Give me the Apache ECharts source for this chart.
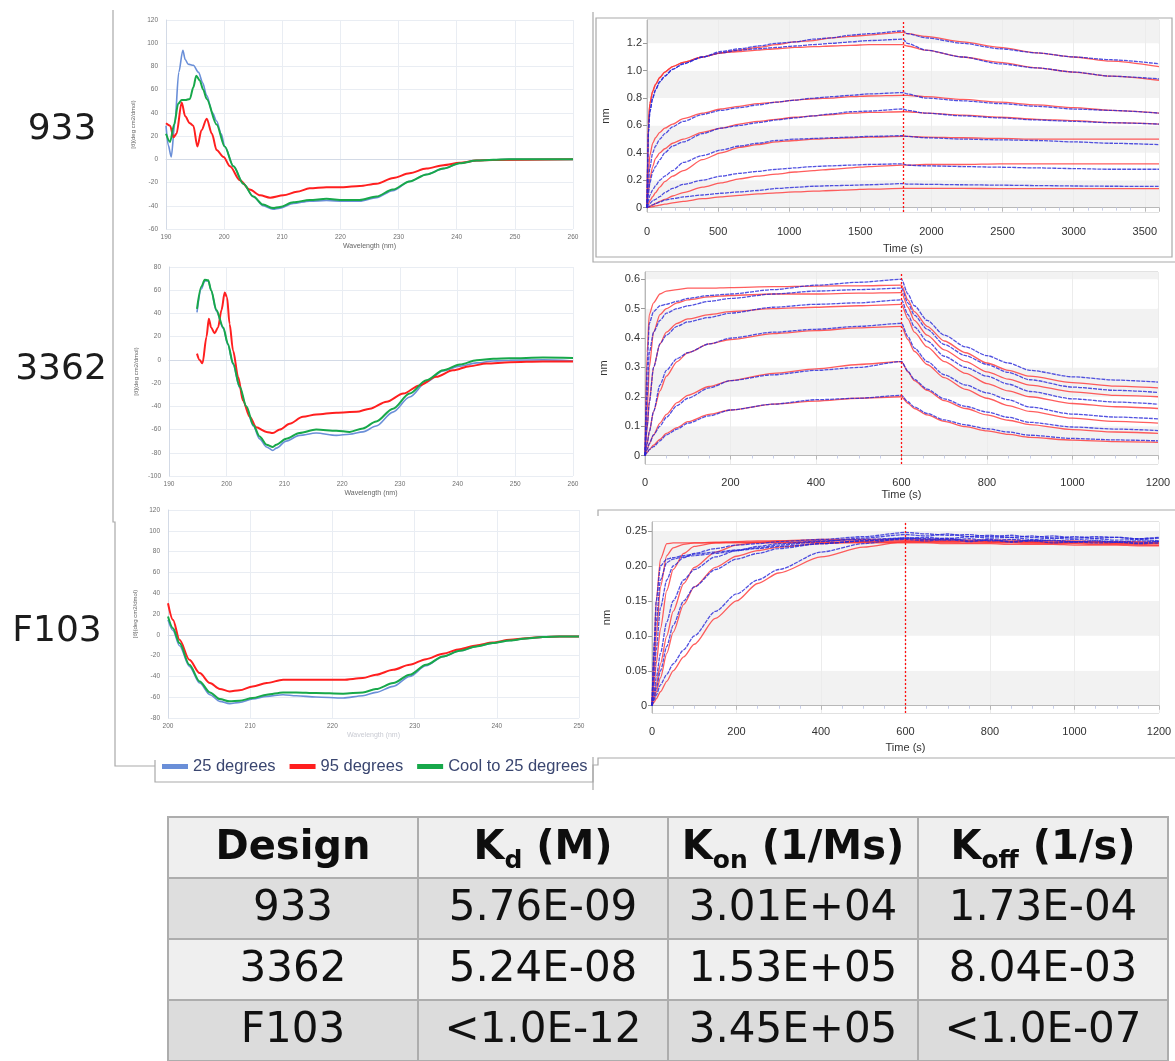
<!DOCTYPE html>
<html><head><meta charset="utf-8">
<script src="https://cdn.jsdelivr.net/npm/echarts@6/dist/echarts.min.js"></script>
<style>html,body{margin:0;padding:0;background:#fff}#c{width:1175px;height:1061px}</style>
</head><body><div id="c"></div>
<script>
// ================= DATA =================
const rowLabels = ['933', '3362', 'F103'];
const cdNames = ['25 degrees', '95 degrees', 'Cool to 25 degrees'];

// CD spectra, design 933 (wavelength nm / [theta])
const cd933BlueWl = [190,190.4,190.9,191.5,192.2,192.9,193.3,193.8,194.7,195.6,196.3,197,198,198.7,199.5,200.1,201.6,203.3,205,206.7,208.4,209.6,211.9,214.7,217.6,220.5,223.3,226.2,229,231.9,234.8,237.7,240.5,243.4,246.3,249,260];
const cd933Blue   = [29,12,2,30,75,94,86,82,81,75,66,55,40,33,22,11,-6,-21,-32,-40,-43,-42,-38,-36,-35.5,-36,-36,-33,-27,-19,-13,-8,-3.4,-1.1,-0.3,0,0];
const cd933RedWl  = [190,190.7,191.3,191.8,192.7,193.3,194.1,194.7,195.4,196.1,197,197.9,198.7,199.9,201,202.7,204.4,206.2,207.9,210.2,212.5,214.7,217.6,220.5,223.3,226.2,229.1,231.9,234.8,237.7,240.5,243.4,246.2,260];
const cd933Red    = [31,29,19,22,49,37,31,29,11,25,35,22,8,2,-6,-18,-26,-31,-33,-31,-28,-25,-24,-24,-23,-21,-16,-12,-8,-5,-3,-1,-0.5,0];
const cd933GreenWl= [190,190.7,191.4,192.1,192.7,193.3,194.1,194.7,195.2,195.8,196.4,197,198.7,200.1,201.6,203.3,205,206.7,208.4,209.6,211.9,214.7,217.6,220.5,223.3,226.2,229,231.9,234.8,237.7,240.5,243.4,246.3,249,260];
const cd933Green  = [22,15,30,48,51,51,52,62,72,68,60,52,30,11,-6,-21,-32,-39,-42,-41,-37,-35,-34,-35,-35,-32,-26,-19,-13,-8,-3.4,-1.1,-0.3,0,0];

// CD spectra, design 3362
const cd3362BlueWl = [194.85,195.6,196.2,196.8,197.3,198.2,199.4,200.2,201.1,202.25,203.4,204.6,205.7,206.9,208,208.6,210.3,212.6,215.5,219,221.3,223.6,225.9,228.8,231.7,234.6,237.5,240.4,243.3,246.2,249,254.8,260];
const cd3362Blue   = [41,61,68,68,60,42,27,13,-4,-24,-41,-57,-68,-75,-78,-76,-70,-65,-63,-65,-64,-62,-57,-45,-32,-19,-9.5,-5.4,-2.6,-1,-0.3,0,-0.9];
const cd3362RedWl  = [194.85,195.3,195.8,196.5,196.9,197.3,197.9,198.5,199.1,199.65,200.05,200.5,201.1,202,202.8,204,205.1,206.9,208,209.2,210.9,213.2,215.5,219,222.5,224.8,227.7,230.6,233.4,236.3,239.2,242.1,245,249,254.8,260];
const cd3362Red    = [5.4,0,-3,20,35.5,28,23,28,43,58,54,31,8,-15,-35,-49,-58,-62,-63,-60,-55,-49,-47,-45.5,-44.7,-42,-36,-29,-22,-14.6,-9,-5.4,-3.2,-2,-1.4,-1.4];
const cd3362GreenWl= [194.85,195.6,196.2,196.8,197.3,198.2,199.4,200.2,201.1,202.25,203.4,204.6,205.7,206.9,208,208.6,210.3,212.6,215.5,219,221.3,223.6,225.9,228.8,231.7,234.6,237.5,240.4,243.3,246.2,249,254.8,260];
const cd3362Green  = [44,63,69,68.5,60,43,28,14,-3,-23,-40,-56,-66,-73,-75,-73,-68,-63,-60,-61,-62,-59,-53,-42,-29,-17.5,-9,-4,-0.3,1,1.4,2,1.7];

// CD spectra, design F103
const cdF103Wl    = [200,200.6,201.4,202.6,203.85,205.1,206.3,207.5,208.7,210.3,212,214,215.6,218,221.3,223.7,225.3,227.4,229.4,231.4,233.45,235.5,237.5,239.5,241.6,243.6,245.6,247.65,250];
const cdF103Blue  = [14.4,4.2,-10.6,-30.4,-46.4,-57.6,-64,-66.2,-65,-61.8,-59.2,-57.6,-58.6,-59.8,-60.8,-58.6,-55.4,-49.6,-40,-29.8,-21,-15.4,-11.2,-8,-5.4,-3.5,-2.2,-1.6,-1.6];
const cdF103Red   = [30.4,14.4,-4.8,-24,-36.8,-46.4,-52,-54.4,-53.4,-49.6,-46.4,-43.2,-43.2,-43.2,-43.2,-41.6,-38.4,-33.6,-28.8,-23.4,-18.2,-13.8,-10.2,-7.4,-4.8,-3.2,-2.2,-1.6,-1.6];
const cdF103Green = [17.6,6.4,-8,-28.8,-44.8,-55.4,-61.8,-64,-63.4,-60.8,-57.6,-55.4,-55.4,-56,-56.6,-55.4,-52.2,-46.4,-38.4,-28.8,-20.8,-15.4,-11.2,-8,-5.4,-3.5,-2.2,-1.6,-1.6];

// BLI sensorgrams, design 933 (time s / nm); dissociation starts at 1800 s
const bli933Switch = 1800;
const bli933T = [0,10,20,40,60,90,125,180,255,390,520,650,780,910,1040,1170,1300,1430,1560,1800,1830,1960,2220,2480,2740,3000,3260,3600];
const bli933Data = [
  [0,0.55,0.70,0.80,0.86,0.92,0.96,1.01,1.05,1.10,1.14,1.16,1.18,1.20,1.21,1.23,1.24,1.26,1.27,1.29,1.27,1.24,1.20,1.16,1.13,1.10,1.08,1.05],
  [0,0.55,0.70,0.80,0.86,0.92,0.96,1.01,1.05,1.10,1.13,1.15,1.16,1.17,1.18,1.19,1.20,1.21,1.22,1.23,1.20,1.15,1.10,1.05,1.02,0.99,0.96,0.94],
  [0,0.18,0.29,0.40,0.45,0.50,0.54,0.59,0.63,0.68,0.71,0.73,0.75,0.77,0.785,0.80,0.81,0.82,0.83,0.84,0.83,0.80,0.78,0.76,0.74,0.72,0.71,0.69],
  [0,0.10,0.18,0.26,0.30,0.35,0.40,0.45,0.48,0.54,0.58,0.60,0.62,0.64,0.655,0.67,0.685,0.70,0.705,0.72,0.71,0.69,0.67,0.655,0.64,0.63,0.62,0.61],
  [0,0.05,0.09,0.13,0.16,0.20,0.23,0.27,0.33,0.38,0.42,0.45,0.47,0.49,0.50,0.505,0.51,0.515,0.52,0.525,0.52,0.51,0.50,0.495,0.49,0.48,0.47,0.46],
  [0,0.02,0.03,0.05,0.06,0.08,0.11,0.14,0.17,0.20,0.23,0.25,0.265,0.28,0.29,0.30,0.305,0.31,0.315,0.32,0.31,0.305,0.30,0.295,0.29,0.285,0.28,0.28],
  [0,0.005,0.01,0.02,0.03,0.04,0.055,0.065,0.078,0.092,0.105,0.115,0.125,0.14,0.148,0.156,0.16,0.163,0.167,0.175,0.172,0.17,0.167,0.164,0.161,0.158,0.156,0.155]
];
const bli933Fit = [
  [0,0.62,0.76,0.85,0.90,0.95,0.99,1.03,1.06,1.10,1.13,1.15,1.17,1.19,1.21,1.22,1.24,1.25,1.26,1.28,1.27,1.25,1.21,1.17,1.13,1.10,1.07,1.03],
  [0,0.62,0.76,0.85,0.90,0.95,0.99,1.03,1.06,1.10,1.13,1.14,1.15,1.16,1.17,1.175,1.18,1.185,1.19,1.19,1.18,1.15,1.10,1.06,1.02,0.99,0.96,0.93],
  [0,0.25,0.38,0.47,0.51,0.55,0.58,0.61,0.65,0.69,0.72,0.74,0.76,0.77,0.785,0.795,0.80,0.81,0.815,0.82,0.82,0.81,0.79,0.77,0.75,0.73,0.71,0.69],
  [0,0.12,0.21,0.30,0.36,0.40,0.43,0.47,0.50,0.55,0.58,0.61,0.63,0.645,0.66,0.67,0.68,0.69,0.695,0.70,0.70,0.69,0.675,0.66,0.645,0.635,0.62,0.61],
  [0,0.03,0.05,0.08,0.11,0.15,0.19,0.23,0.27,0.35,0.40,0.44,0.46,0.48,0.49,0.50,0.505,0.51,0.515,0.52,0.52,0.515,0.51,0.505,0.50,0.50,0.50,0.50],
  [0,0.005,0.01,0.02,0.03,0.045,0.06,0.085,0.11,0.15,0.18,0.21,0.23,0.245,0.26,0.27,0.28,0.29,0.30,0.31,0.31,0.315,0.315,0.32,0.32,0.32,0.32,0.32],
  [0,0.002,0.004,0.008,0.012,0.018,0.025,0.035,0.045,0.065,0.078,0.09,0.10,0.108,0.115,0.12,0.125,0.13,0.135,0.14,0.14,0.14,0.14,0.139,0.139,0.138,0.138,0.138]
];

// BLI sensorgrams, design 3362; dissociation starts at 600 s
const bli3362Switch = 600;
const bli3362T = [0,5,10,20,35,50,75,100,150,200,300,400,500,600,615,630,660,700,750,800,850,900,1000,1100,1200];
const bli3362Data = [
  [0,0.30,0.45,0.49,0.51,0.515,0.525,0.535,0.545,0.55,0.565,0.58,0.59,0.60,0.55,0.51,0.46,0.41,0.37,0.34,0.315,0.29,0.268,0.257,0.25],
  [0,0.2,0.35,0.42,0.46,0.485,0.50,0.51,0.525,0.535,0.55,0.56,0.565,0.57,0.52,0.478,0.43,0.378,0.34,0.31,0.283,0.258,0.233,0.222,0.215],
  [0,0.1,0.18,0.30,0.38,0.41,0.44,0.455,0.47,0.485,0.505,0.515,0.52,0.53,0.48,0.438,0.39,0.338,0.30,0.27,0.243,0.218,0.193,0.182,0.175],
  [0,0.04,0.08,0.15,0.24,0.29,0.33,0.35,0.38,0.40,0.42,0.43,0.44,0.45,0.405,0.366,0.32,0.275,0.24,0.213,0.19,0.165,0.141,0.131,0.125],
  [0,0.02,0.04,0.07,0.10,0.13,0.17,0.195,0.23,0.255,0.275,0.29,0.30,0.32,0.287,0.259,0.226,0.193,0.167,0.148,0.13,0.113,0.097,0.09,0.085],
  [0,0.01,0.02,0.03,0.05,0.07,0.09,0.11,0.135,0.155,0.175,0.19,0.195,0.205,0.183,0.165,0.143,0.121,0.104,0.091,0.08,0.069,0.058,0.053,0.05]
];
const bli3362Fit = [
  [0,0.35,0.48,0.52,0.55,0.56,0.565,0.57,0.57,0.572,0.575,0.577,0.578,0.58,0.53,0.49,0.44,0.39,0.35,0.315,0.29,0.27,0.248,0.236,0.23],
  [0,0.15,0.30,0.42,0.48,0.50,0.52,0.53,0.54,0.545,0.55,0.55,0.553,0.555,0.505,0.46,0.41,0.36,0.32,0.285,0.26,0.24,0.217,0.205,0.20],
  [0,0.09,0.18,0.30,0.38,0.42,0.45,0.465,0.48,0.49,0.50,0.505,0.51,0.515,0.465,0.42,0.37,0.32,0.28,0.245,0.22,0.2,0.177,0.166,0.16],
  [0,0.04,0.08,0.15,0.22,0.27,0.32,0.35,0.38,0.395,0.415,0.425,0.435,0.44,0.395,0.355,0.31,0.265,0.225,0.195,0.17,0.15,0.127,0.116,0.11],
  [0,0.02,0.04,0.07,0.11,0.14,0.18,0.205,0.235,0.255,0.28,0.295,0.31,0.32,0.285,0.255,0.222,0.187,0.16,0.138,0.12,0.105,0.088,0.08,0.075],
  [0,0.01,0.02,0.035,0.055,0.075,0.095,0.115,0.14,0.155,0.175,0.185,0.195,0.20,0.178,0.16,0.138,0.116,0.098,0.084,0.072,0.062,0.052,0.047,0.045]
];

// BLI sensorgrams, design F103; dissociation starts at 600 s
const bliF103Switch = 600;
const bliF103T = [0,5,10,20,35,50,75,100,150,200,250,300,400,500,600,650,700,750,800,850,900,950,1000,1050,1100,1150,1200];
const bliF103Data = [
  [0,0.09,0.15,0.20,0.21,0.212,0.215,0.217,0.22,0.223,0.226,0.23,0.235,0.24,0.245,0.243,0.246,0.242,0.244,0.241,0.243,0.240,0.242,0.240,0.241,0.239,0.240],
  [0,0.07,0.12,0.18,0.205,0.21,0.213,0.215,0.218,0.222,0.225,0.228,0.232,0.236,0.24,0.238,0.240,0.236,0.238,0.235,0.237,0.236,0.234,0.236,0.235,0.233,0.235],
  [0,0.04,0.08,0.14,0.18,0.20,0.212,0.218,0.225,0.23,0.232,0.235,0.238,0.242,0.248,0.246,0.244,0.245,0.242,0.244,0.241,0.243,0.240,0.242,0.241,0.239,0.241],
  [0,0.02,0.04,0.075,0.12,0.15,0.18,0.195,0.213,0.222,0.228,0.232,0.236,0.238,0.24,0.239,0.237,0.239,0.236,0.238,0.236,0.237,0.235,0.236,0.234,0.236,0.235],
  [0,0.012,0.025,0.05,0.085,0.115,0.15,0.17,0.195,0.21,0.218,0.225,0.232,0.236,0.238,0.236,0.238,0.235,0.237,0.234,0.236,0.233,0.235,0.233,0.234,0.232,0.233],
  [0,0.008,0.015,0.03,0.045,0.06,0.08,0.10,0.135,0.16,0.18,0.195,0.22,0.232,0.24,0.241,0.239,0.242,0.240,0.241,0.238,0.240,0.238,0.239,0.237,0.238,0.236]
];
const bliF103Fit = [
  [0,0.08,0.15,0.21,0.232,0.233,0.233,0.233,0.233,0.233,0.233,0.233,0.233,0.233,0.233,0.233,0.232,0.232,0.232,0.231,0.231,0.231,0.230,0.230,0.230,0.229,0.229],
  [0,0.05,0.10,0.17,0.215,0.226,0.231,0.233,0.234,0.234,0.234,0.234,0.234,0.234,0.234,0.234,0.234,0.233,0.233,0.233,0.232,0.232,0.232,0.231,0.231,0.231,0.230],
  [0,0.03,0.06,0.11,0.165,0.195,0.218,0.228,0.233,0.235,0.236,0.236,0.236,0.236,0.236,0.236,0.236,0.235,0.235,0.235,0.234,0.234,0.234,0.233,0.233,0.233,0.232],
  [0,0.015,0.03,0.06,0.10,0.135,0.175,0.198,0.22,0.23,0.234,0.236,0.238,0.238,0.238,0.238,0.238,0.237,0.237,0.237,0.236,0.236,0.236,0.235,0.235,0.235,0.234],
  [0,0.01,0.02,0.04,0.075,0.105,0.145,0.17,0.198,0.214,0.222,0.227,0.232,0.235,0.236,0.236,0.236,0.236,0.235,0.235,0.235,0.234,0.234,0.234,0.233,0.233,0.233],
  [0,0.005,0.01,0.02,0.035,0.05,0.07,0.088,0.125,0.15,0.175,0.19,0.213,0.227,0.235,0.235,0.235,0.235,0.234,0.234,0.234,0.233,0.233,0.233,0.232,0.232,0.232]
];

// Kinetics table
const tableDesigns = ['933', '3362', 'F103'];
const tableKd   = ['5.76E-09', '5.24E-08', '<1.0E-12'];
const tableKon  = ['3.01E+04', '1.53E+05', '3.45E+05'];
const tableKoff = ['1.73E-04', '8.04E-03', '<1.0E-07'];
const tableHeads = [
  {main: 'Design', sub: '', unit: ''},
  {main: 'K', sub: 'd', unit: ' (M)'},
  {main: 'K', sub: 'on', unit: ' (1/Ms)'},
  {main: 'K', sub: 'off', unit: ' (1/s)'}
];

// ================= CHART =================
const C_BLUE = '#6a8fd8', C_RED = '#ff1f1f', C_GREEN = '#17a84a';
const B_BLUE = '#2626d8', B_RED = '#ff3535';
const zip = (xs, ys) => xs.map((x, i) => [x, ys[i]]);

const grids = [
  {left: 166, top: 20, width: 407, height: 209},
  {left: 169, top: 267, width: 404, height: 209},
  {left: 168, top: 510, width: 411, height: 208},
  {left: 647, top: 20, width: 512, height: 192, show: true, borderColor: '#c4c4c4', borderWidth: 1},
  {left: 645, top: 272, width: 513, height: 192, show: true, borderColor: '#c4c4c4', borderWidth: 1},
  {left: 652, top: 522, width: 507, height: 191, show: true, borderColor: '#c4c4c4', borderWidth: 1},
  {left: 168, top: 817, width: 1000, height: 248}
];

function cdX(gi, min, max) {
  return {type: 'value', gridIndex: gi, min: min, max: max, interval: 10,
    axisLine: {show: true, lineStyle: {color: '#d3dae6'}}, axisTick: {show: false},
    axisLabel: {fontSize: 6.5, color: '#6f6f6f', margin: 5},
    splitLine: {show: true, lineStyle: {color: '#e9edf3'}},
    name: 'Wavelength (nm)', nameLocation: 'middle', nameGap: 14,
    nameTextStyle: {fontSize: 7, color: gi === 2 ? '#c9cbd3' : '#666'}};
}
function cdY(gi, min, max) {
  return {type: 'value', gridIndex: gi, min: min, max: max, interval: 20,
    axisLine: {show: true, lineStyle: {color: '#d3dae6'}}, axisTick: {show: false},
    axisLabel: {fontSize: 6.5, color: '#6f6f6f', margin: 8},
    splitLine: {show: true, lineStyle: {color: '#e9edf3'}},
    name: '[θ](deg cm2/dmol)', nameLocation: 'middle', nameGap: 30, nameRotate: 90,
    nameTextStyle: {fontSize: 6, color: '#666'}};
}
function bliX(gi, max, interval, minor, margin, nameGap) {
  return {type: 'value', gridIndex: gi, min: 0, max: max, interval: interval,
    axisLine: {show: true, lineStyle: {color: '#b8b8b8'}},
    axisTick: {show: true, length: 4, lineStyle: {color: '#b8b8b8'}},
    minorTick: {show: true, splitNumber: minor, length: 3, lineStyle: {color: '#c8cfea'}},
    axisLabel: {fontSize: 11, color: '#333', margin: margin, formatter: v => String(v)},
    splitLine: {show: true, lineStyle: {color: '#ececec'}},
    name: 'Time (s)', nameLocation: 'middle', nameGap: nameGap,
    nameTextStyle: {fontSize: 11, color: '#333'}};
}
function bliY(gi, min, max, split, digits, nameGap) {
  return {type: 'value', gridIndex: gi, min: min, max: max, splitNumber: split,
    axisLine: {show: true, lineStyle: {color: '#b8b8b8'}},
    axisTick: {show: true, length: 4, lineStyle: {color: '#999'}},
    axisLabel: {fontSize: 11, color: '#333', margin: 5, showMinLabel: false, showMaxLabel: false,
      formatter: v => Math.abs(v) < 1e-9 ? '0' : v.toFixed(digits)},
    splitLine: {show: false},
    splitArea: {show: true, areaStyle: {color: ['#ffffff', '#f2f2f2']}},
    name: 'nm', nameLocation: 'middle', nameGap: nameGap, nameRotate: 90,
    nameTextStyle: {fontSize: 11, color: '#333'}};
}

const xAxis = [
  cdX(0, 190, 260), cdX(1, 190, 260), cdX(2, 200, 250),
  bliX(3, 3600, 500, 5, 14, 31), bliX(4, 1200, 200, 4, 13, 25), bliX(5, 1200, 200, 4, 13, 29),
  {type: 'category', gridIndex: 6, data: ['c0', 'c1', 'c2', 'c3'], show: false}
];
const yAxis = [
  cdY(0, -60, 120), cdY(1, -100, 80), cdY(2, -80, 120),
  bliY(3, -0.032, 1.37, 7, 1, 36), bliY(4, -0.029, 0.625, 6, 1, 36), bliY(5, -0.0104, 0.263, 5, 2, 40),
  {type: 'category', gridIndex: 6, data: ['r0', 'r1', 'r2', 'r3'], inverse: true, show: false}
];

const series = [];
function cdSeries(gi, sets) {
  const cols = [C_BLUE, C_RED, C_GREEN];
  const widths = [1.6, 2, 2];
  sets.forEach((s, k) => {
    series.push({type: 'line', name: cdNames[k], xAxisIndex: gi, yAxisIndex: gi,
      data: zip(s[0], s[1]), showSymbol: false, smooth: 0.3, smoothMonotone: 'x',
      color: cols[k], lineStyle: {color: cols[k], width: widths[k]}, z: 2 + k});
  });
}
cdSeries(0, [[cd933BlueWl, cd933Blue], [cd933RedWl, cd933Red], [cd933GreenWl, cd933Green]]);
cdSeries(1, [[cd3362BlueWl, cd3362Blue], [cd3362RedWl, cd3362Red], [cd3362GreenWl, cd3362Green]]);
cdSeries(2, [[cdF103Wl, cdF103Blue], [cdF103Wl, cdF103Red], [cdF103Wl, cdF103Green]]);

function bliSeries(gi, t, data, fit, sw) {
  fit.forEach((y, k) => {
    const s = {type: 'line', name: 'fit', xAxisIndex: gi, yAxisIndex: gi, data: zip(t, y),
      showSymbol: false, smooth: 0.25, smoothMonotone: 'x', silent: true,
      lineStyle: {color: B_RED, width: 1.3, opacity: 0.8}, z: 2};
    if (k === 0) {
      s.markLine = {silent: true, symbol: ['none', 'none'], label: {show: false},
        lineStyle: {color: '#ff1010', type: [2, 2], width: 1.3}, data: [{xAxis: sw}]};
    }
    series.push(s);
  });
  data.forEach((y) => {
    series.push({type: 'line', name: 'data', xAxisIndex: gi, yAxisIndex: gi, data: zip(t, y),
      showSymbol: false, smooth: 0.25, smoothMonotone: 'x', silent: true,
      lineStyle: {color: B_BLUE, width: 1.3, opacity: 0.8, type: [4, 1]}, z: 3});
  });
}
bliSeries(3, bli933T, bli933Data, bli933Fit, bli933Switch);
bliSeries(4, bli3362T, bli3362Data, bli3362Fit, bli3362Switch);
bliSeries(5, bliF103T, bliF103Data, bliF103Fit, bliF103Switch);

// table
const tableCells = [];
tableHeads.forEach((h, c) => {
  tableCells.push({value: [c, 0], text: h.sub ? '{h|' + h.main + '}{s|' + h.sub + '}{h|' + h.unit + '}' : '{h|' + h.main + '}'});
});
tableDesigns.forEach((d, r) => {
  [d, tableKd[r], tableKon[r], tableKoff[r]].forEach((v, c) => {
    tableCells.push({value: [c, r + 1], text: '{v|' + v + '}'});
  });
});
const rowFills = ['#efefef', '#dedede', '#efefef', '#dcdcdc'];
series.push({
  type: 'custom', xAxisIndex: 6, yAxisIndex: 6, silent: true,
  data: tableCells.map(c => c.value),
  renderItem: function (params, api) {
    const c = api.value(0), r = api.value(1);
    const p = api.coord([c, r]);
    const sz = api.size([1, 1]);
    return {type: 'group', children: [
      {type: 'rect', shape: {x: p[0] - sz[0] / 2, y: p[1] - sz[1] / 2, width: sz[0], height: sz[1]},
        style: {fill: rowFills[r], stroke: '#adadad', lineWidth: 2}},
      {type: 'text', x: p[0], y: p[1] + 1, style: {
        text: tableCells[params.dataIndex].text, align: 'center', verticalAlign: 'middle',
        rich: {
          h: {fontSize: 40, fontWeight: 'bold', fontFamily: 'DejaVu Sans', fill: '#0e0e0e', lineHeight: 50, verticalAlign: 'middle'},
          s: {fontSize: 25, fontWeight: 'bold', fontFamily: 'DejaVu Sans', fill: '#0e0e0e', lineHeight: 25, verticalAlign: 'bottom'},
          v: {fontSize: 42, fontFamily: 'DejaVu Sans', fill: '#111', lineHeight: 50}
        }}}
    ]};
  }
});

const frameStyle = {stroke: '#a9a9a9', lineWidth: 1.2, fill: null};
const graphic = [
  {type: 'text', x: 62, y: 130, style: {text: rowLabels[0], fontSize: 36, fontFamily: 'DejaVu Sans', fill: '#1c1c1c', align: 'center', verticalAlign: 'middle'}},
  {type: 'text', x: 61, y: 370, style: {text: rowLabels[1], fontSize: 36, fontFamily: 'DejaVu Sans', fill: '#1c1c1c', align: 'center', verticalAlign: 'middle'}},
  {type: 'text', x: 57, y: 632, style: {text: rowLabels[2], fontSize: 36, fontFamily: 'DejaVu Sans', fill: '#1c1c1c', align: 'center', verticalAlign: 'middle'}},
  {type: 'polyline', shape: {points: [[113, 10], [113, 522], [115, 522], [115, 766], [155, 766]]}, style: frameStyle, silent: true},
  {type: 'polyline', shape: {points: [[155, 760], [155, 782], [593, 782], [593, 757]]}, style: frameStyle, silent: true},
  {type: 'polyline', shape: {points: [[593, 12], [593, 262], [1175, 262]]}, style: frameStyle, silent: true},
  {type: 'rect', shape: {x: 596, y: 18, width: 576, height: 239}, style: frameStyle, silent: true},
  {type: 'polyline', shape: {points: [[598, 516], [598, 510], [1175, 510]]}, style: frameStyle, silent: true},
  {type: 'polyline', shape: {points: [[1175, 758], [598, 758], [598, 765], [593, 765], [593, 790]]}, style: frameStyle, silent: true}
];

const option = {
  animation: false,
  backgroundColor: '#ffffff',
  textStyle: {fontFamily: 'Liberation Sans, Arial, sans-serif'},
  grid: grids, xAxis: xAxis, yAxis: yAxis, series: series, graphic: graphic,
  legend: {
    data: cdNames, left: 157, top: 753, icon: 'rect', itemWidth: 26, itemHeight: 5, itemGap: 14,
    selectedMode: false,
    textStyle: {fontFamily: 'Liberation Sans', fontSize: 16.5, color: '#3a4670'}
  }
};
const chart = echarts.init(document.getElementById('c'), null, {renderer: 'canvas'});
chart.setOption(option);
</script></body></html>
